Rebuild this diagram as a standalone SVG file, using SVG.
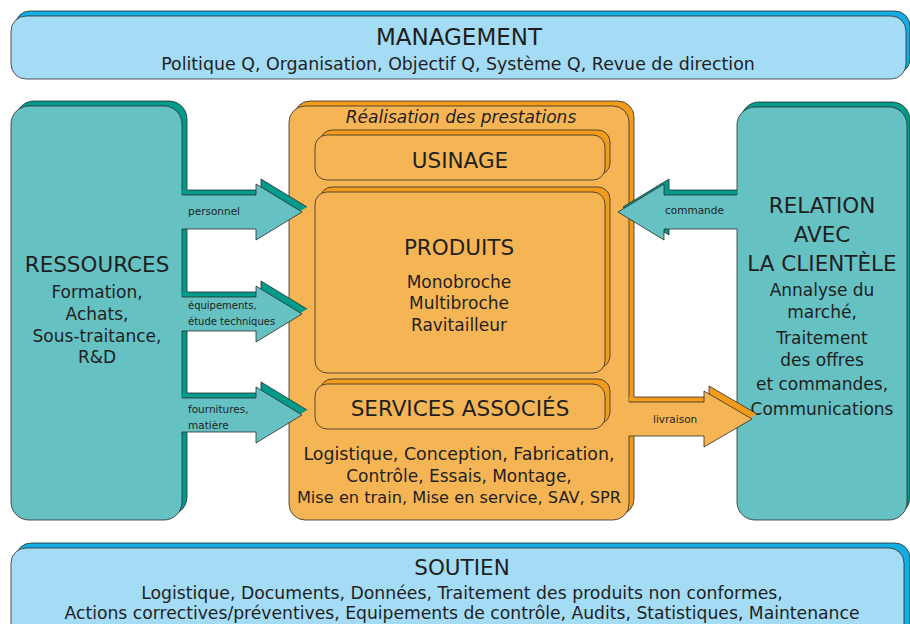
<svg xmlns="http://www.w3.org/2000/svg" width="910" height="624" viewBox="0 0 910 624">
<defs>
<style>
text{font-family:"DejaVu Sans","Open Sans",sans-serif;fill:#1f1f1f;text-anchor:middle}
.ln{stroke:#2b2b2b;stroke-width:0.8;stroke-linejoin:round}
.bl{fill:#A4DBF5}.bd{fill:#13ACE3}
.tl{fill:#66C1C3}.td{fill:#009B8B}
.ol{fill:#F6B554}.od{fill:#F39B1B}
.nf{fill:none}
.h1{font-size:21.5px}
.b{font-size:17px}
.s{font-size:10.5px;text-anchor:start}
</style>
</defs>
<rect width="910" height="624" fill="#fff"/>

<g id="management">
<rect class="bd ln" x="15" y="11" width="895" height="63" rx="15"/>
<rect class="bl ln" x="11" y="16" width="895" height="63" rx="15"/>
<text class="h1" x="459" y="45" style="font-size:23px">MANAGEMENT</text>
<text class="b" x="458" y="70" style="font-size:17.4px">Politique Q, Organisation, Objectif Q, Système Q, Revue de direction</text>
</g>

<g id="ressources">
<rect class="td ln" x="16" y="101" width="171" height="414" rx="18"/>
<rect class="tl ln" x="11" y="106" width="171" height="414" rx="18"/>
<text class="h1" x="97" y="272">RESSOURCES</text>
<text class="b" x="97" y="298">Formation,</text>
<text class="b" x="97" y="320">Achats,</text>
<text class="b" x="97" y="342">Sous-traitance,</text>
<text class="b" x="97" y="363">R&amp;D</text>
</g>

<g id="realisation">
<rect class="od ln" x="294" y="101" width="340" height="414" rx="16"/>
<rect class="ol ln" x="289" y="106" width="340" height="414" rx="16"/>
<text class="b" x="461" y="123" font-style="italic">Réalisation des prestations</text>
<text class="b" x="459" y="460" style="font-size:17.4px">Logistique, Conception, Fabrication,</text>
<text class="b" x="459" y="482">Contrôle, Essais, Montage,</text>
<text class="b" x="459" y="503" style="font-size:16.2px">Mise en train, Mise en service, SAV, SPR</text>
</g>

<g id="usinage">
<rect class="od ln" x="320" y="130" width="290" height="45" rx="12"/>
<rect class="ol ln" x="315" y="135" width="290" height="45" rx="12"/>
<text class="h1" x="460" y="168">USINAGE</text>
</g>

<g id="produits">
<rect class="od ln" x="320" y="187" width="290" height="181" rx="12"/>
<rect class="ol ln" x="315" y="192" width="290" height="181" rx="12"/>
<text class="h1" x="459" y="255">PRODUITS</text>
<text class="b" x="459" y="288">Monobroche</text>
<text class="b" x="459" y="309">Multibroche</text>
<text class="b" x="459" y="331">Ravitailleur</text>
</g>

<g id="services">
<rect class="od ln" x="320" y="379" width="290" height="45" rx="12"/>
<rect class="ol ln" x="315" y="384" width="290" height="45" rx="12"/>
<text class="h1" x="460" y="416">SERVICES ASSOCIÉS</text>
</g>

<g id="relation">
<rect class="td ln" x="741" y="102" width="169" height="413" rx="18"/>
<rect class="tl ln" x="737" y="107" width="170" height="413" rx="18"/>
<text class="h1" x="822" y="213">RELATION</text>
<text class="h1" x="822" y="242">AVEC</text>
<text class="h1" x="822" y="271">LA CLIENTÈLE</text>
<text class="b" x="822" y="296">Annalyse du</text>
<text class="b" x="822" y="318">marché,</text>
<text class="b" x="822" y="344">Traitement</text>
<text class="b" x="822" y="366">des offres</text>
<text class="b" x="822" y="390">et commandes,</text>
<text class="b" x="822" y="415">Communications</text>
</g>

<g id="soutien">
<rect class="bd ln" x="16" y="543" width="894" height="100" rx="15"/>
<rect class="bl ln" x="11" y="548" width="893" height="100" rx="15"/>
<text class="h1" x="462" y="575">SOUTIEN</text>
<text class="b" x="462" y="599" style="font-size:17.3px">Logistique, Documents, Données, Traitement des produits non conformes,</text>
<text class="b" x="462" y="619" style="font-size:17.2px">Actions correctives/préventives, Equipements de contrôle, Audits, Statistiques, Maintenance</text>
</g>

<g id="connectors">
<g id="arrow-personnel">
<polygon class="td" points="182,190 261,190 261,179 307,207 261,235 261,224 182,224"/>
<polyline class="ln nf" points="187,190 261,190 261,179 307,207"/>
<polygon class="tl" points="179,195 256,195 256,184 302,212 256,240 256,229 179,229"/>
<polyline class="ln nf" points="182,195 256,195 256,184 302,212 256,240 256,229 182,229"/>
<text class="s" x="188" y="215">personnel</text>
</g>
<g id="arrow-equipements">
<polygon class="td" points="182,292 261,292 261,281 307,309 261,337 261,326 182,326"/>
<polyline class="ln nf" points="187,292 261,292 261,281 307,309"/>
<polygon class="tl" points="179,297 256,297 256,286 302,314 256,342 256,331 179,331"/>
<polyline class="ln nf" points="182,297 256,297 256,286 302,314 256,342 256,331 182,331"/>
<text class="s" x="188" y="309" style="font-size:10px">équipements,</text>
<text class="s" x="188" y="325" style="font-size:10px">étude techniques</text>
</g>
<g id="arrow-fournitures">
<polygon class="td" points="182,393 261,393 261,382 307,410 261,438 261,427 182,427"/>
<polyline class="ln nf" points="187,393 261,393 261,382 307,410"/>
<polygon class="tl" points="179,398 256,398 256,387 302,415 256,443 256,432 179,432"/>
<polyline class="ln nf" points="182,398 256,398 256,387 302,415 256,443 256,432 182,432"/>
<text class="s" x="188" y="413">fournitures,</text>
<text class="s" x="188" y="429">matière</text>
</g>
<g id="arrow-commande">
<polygon class="td" points="737,190 669,190 669,179 623,207 669,235 669,224 737,224"/>
<polyline class="ln nf" points="737,190 669,190 669,179 623,207 669,235 669,229"/>
<polygon class="tl" points="740,195 664,195 664,184 618,212 664,240 664,229 740,229"/>
<polyline class="ln nf" points="737,195 664,195 664,184 618,212 664,240 664,229 737,229"/>
<text class="s" x="665" y="214">commande</text>
</g>
<g id="arrow-livraison">
<polygon class="od" points="629,397 709,397 709,386 757,414 709,442 709,431 629,431"/>
<polyline class="ln nf" points="634,397 709,397 709,386 757,414"/>
<polygon class="ol" points="626,402 704,402 704,391 752,419 704,447 704,436 626,436"/>
<polyline class="ln nf" points="629,402 704,402 704,391 752,419 704,447 704,436 629,436"/>
<text class="s" x="653" y="423">livraison</text>
</g>
</g>
</svg>
